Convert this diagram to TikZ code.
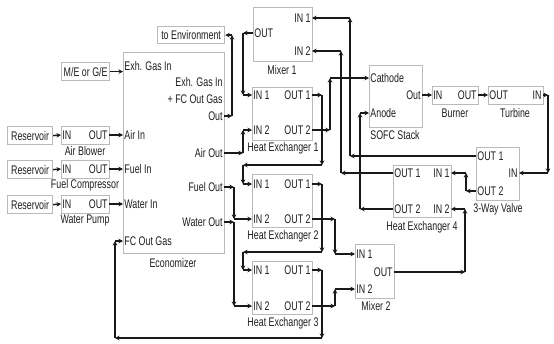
\documentclass[tikz,border=0pt]{standalone}
\usepackage{fontspec}
\setmainfont{Liberation Sans}[FakeStretch=0.71]
\usetikzlibrary{arrows.meta,decorations.pathreplacing}
\tikzset{
  box/.style={draw=black!27, line width=1.2pt, fill=white, inner sep=0pt, anchor=north west},
  tx/.style={inner sep=1.2pt, font=\fontsize{12.5}{13}\selectfont, text=black!88},
  flow/.style={decorate, decoration={show path construction,
     lineto code={\draw[line width=1.45pt, black!90, -{Stealth[length=4.5pt,width=4.5pt]}] (\tikzinputsegmentfirst) -- (\tikzinputsegmentlast);}}},
}
\newcommand\blk[5]{\node[box, minimum width=#4pt, minimum height=#5pt] (#1) at (#2,#3) {};}
\begin{document}
\begin{tikzpicture}[x=1pt,y=-1pt]
\useasboundingbox (0,0) rectangle (554,343);
% ---------- boxes ----------
\blk{envB}{157}{26}{67}{17}
\blk{meB}{61}{62}{48}{18}
\blk{eco}{123}{52}{101}{201}
\blk{r1}{7}{126}{45}{18}
\blk{r2}{7}{160}{45}{18}
\blk{r3}{7}{195}{45}{18}
\blk{ab}{61}{126}{48}{18}
\blk{fc}{61}{160}{48}{18}
\blk{wp}{61}{195}{48}{18}
\blk{m1}{253}{7}{59}{54}
\blk{h1}{252}{87}{60}{53}
\blk{h2}{252}{174}{60}{53}
\blk{h3}{252}{261}{60}{53}
\blk{m2}{355}{244}{39}{54}
\blk{sofc}{369}{65}{53}{62}
\blk{bu}{432}{86}{46}{18}
\blk{tu}{488}{86}{55}{18}
\blk{vv}{476}{147}{43}{53}
\blk{h4}{393}{165}{58}{52}
% ---------- texts ----------
\node[tx] (envT) at (envB.center) {to Environment};
\node[tx] (me) at (meB.center) {M/E or G/E};
\node[tx] (r1T) at (r1.center) {Reservoir};
\node[tx] (r2T) at (r2.center) {Reservoir};
\node[tx] (r3T) at (r3.center) {Reservoir};
\node[tx, anchor=west] (abIn) at (61,135) {IN};
\node[tx, anchor=east] (abOut) at (109,135) {OUT};
\node[tx, anchor=west] (fcIn) at (61,169) {IN};
\node[tx, anchor=east] (fcOut) at (109,169) {OUT};
\node[tx, anchor=west] (wpIn) at (61,204) {IN};
\node[tx, anchor=east] (wpOut) at (109,204) {OUT};
\node[tx] (abL) at (85,151) {Air Blower};
\node[tx] (fcL) at (85,185) {Fuel Compressor};
\node[tx] (wpL) at (85,220) {Water Pump};
% economizer
\node[tx, anchor=west] (eExh) at (123,66) {Exh. Gas In};
\node[tx, anchor=west] (eAir) at (123,135) {Air In};
\node[tx, anchor=west] (eFuel) at (123,169) {Fuel In};
\node[tx, anchor=west] (eWater) at (123,204) {Water In};
\node[tx, anchor=west] (eFC) at (123,241) {FC Out Gas};
\node[tx, anchor=east] (eR1) at (224,82) {Exh. Gas In};
\node[tx, anchor=east] (eR2) at (224,99) {+ FC Out Gas};
\node[tx, anchor=east] (eOut) at (224,116) {Out};
\node[tx, anchor=east] (eAirOut) at (224,153) {Air Out};
\node[tx, anchor=east] (eFuelOut) at (224,187) {Fuel Out};
\node[tx, anchor=east] (eWaterOut) at (224,222) {Water Out};
\node[tx] (ecoL) at (173,263) {Economizer};
% mixer 1
\node[tx, anchor=east] (m1In1) at (312,18) {IN 1};
\node[tx, anchor=east] (m1In2) at (312,51) {IN 2};
\node[tx, anchor=west] (m1Out) at (253,33) {OUT};
\node[tx] (m1L) at (282,70) {Mixer 1};
% heat exchangers 1-3
\node[tx, anchor=west] (h1In1) at (252,95) {IN 1};
\node[tx, anchor=east] (h1Out1) at (312,95) {OUT 1};
\node[tx, anchor=west] (h1In2) at (252,130) {IN 2};
\node[tx, anchor=east] (h1Out2) at (312,130) {OUT 2};
\node[tx] (h1L) at (283,148) {Heat Exchanger 1};
\node[tx, anchor=west] (h2In1) at (252,184) {IN 1};
\node[tx, anchor=east] (h2Out1) at (312,184) {OUT 1};
\node[tx, anchor=west] (h2In2) at (252,219) {IN 2};
\node[tx, anchor=east] (h2Out2) at (312,219) {OUT 2};
\node[tx] (h2L) at (283,236) {Heat Exchanger 2};
\node[tx, anchor=west] (h3In1) at (252,270) {IN 1};
\node[tx, anchor=east] (h3Out1) at (312,270) {OUT 1};
\node[tx, anchor=west] (h3In2) at (252,306) {IN 2};
\node[tx, anchor=east] (h3Out2) at (312,306) {OUT 2};
\node[tx] (h3L) at (283,323) {Heat Exchanger 3};
% mixer 2
\node[tx, anchor=west] (m2In1) at (355,254) {IN 1};
\node[tx, anchor=east] (m2Out) at (394,272) {OUT};
\node[tx, anchor=west] (m2In2) at (355,289) {IN 2};
\node[tx] (m2L) at (376,306) {Mixer 2};
% SOFC
\node[tx, anchor=west] (sCath) at (369,78) {Cathode};
\node[tx, anchor=west] (sAnode) at (369,113) {Anode};
\node[tx, anchor=east] (sOut) at (422,95) {Out};
\node[tx] (sL) at (395,135) {SOFC Stack};
% burner, turbine
\node[tx, anchor=west] (bIn) at (432,95) {IN};
\node[tx, anchor=east] (bOut) at (478,95) {OUT};
\node[tx] (bL) at (455,113) {Burner};
\node[tx, anchor=west] (tOut) at (488,95) {OUT};
\node[tx, anchor=east] (tIn) at (543,95) {IN};
\node[tx] (tL) at (515,113) {Turbine};
% 3-way valve
\node[tx, anchor=west] (vOut1) at (476,156) {OUT 1};
\node[tx, anchor=east] (vIn) at (519,173) {IN};
\node[tx, anchor=west] (vOut2) at (476,191) {OUT 2};
\node[tx] (vL) at (498,209) {3-Way Valve};
% heat exchanger 4
\node[tx, anchor=west] (h4Out1) at (393,173) {OUT 1};
\node[tx, anchor=east] (h4In1) at (451,173) {IN 1};
\node[tx, anchor=west] (h4Out2) at (393,209) {OUT 2};
\node[tx, anchor=east] (h4In2) at (451,209) {IN 2};
\node[tx] (h4L) at (422,227) {Heat Exchanger 4};
% ---------- connectors ----------
\path[flow] (meB.east) -- (meB.east -| eExh.west);
\path[flow] (r1.east) -- (abIn.west);
\path[flow] (r2.east) -- (fcIn.west);
\path[flow] (r3.east) -- (wpIn.west);
\path[flow] (abOut.east) -- (eAir.west);
\path[flow] (fcOut.east) -- (eFuel.west);
\path[flow] (wpOut.east) -- (eWater.west);
\path[flow] (eOut.east) -- ++(8,0) |- (envB.east);
\path[flow] (m1Out.west) -- ++(-10,0) |- (h1In1.west);
\path[flow] (eAirOut.east) -- ++(19,0) |- (h1In2.west);
\path[flow] (eFuelOut.east) -- ++(10,0) |- (h2In2.west);
\path[flow] (eWaterOut.east) -- ++(10,0) |- (h3In2.west);
\path[flow] (h1Out1.east) -| (322,165) -| ([xshift=-9pt]h2In1.west) -- (h2In1.west);
\path[flow] (h1Out2.east) -- ++(18,0) |- (sCath.west);
\path[flow] (h2Out1.east) -| (322,252) -| ([xshift=-9pt]h3In1.west) -- (h3In1.west);
\path[flow] (h2Out2.east) -- ++(23,0) |- (m2In1.west);
\path[flow] (h3Out1.east) -| (322,338) -| ([xshift=-8pt]eFC.west) -- (eFC.west);
\path[flow] (h3Out2.east) -- ++(23,0) |- (m2In2.west);
\path[flow] (m2Out.east) -| ([xshift=14pt]h4In2.east) -- (h4In2.east);
\path[flow] (vOut2.west) -| ([xshift=15pt]h4In1.east) -- (h4In1.east);
\path[flow] (vOut1.west) -| ([xshift=38pt]m1In1.east) -- (m1In1.east);
\path[flow] (h4Out1.west) -| ([xshift=29pt]m1In2.east) -- (m1In2.east);
\path[flow] (h4Out2.west) -| ([xshift=-9pt]sAnode.west) -- (sAnode.west);
\path[flow] (sOut.east) -- (bIn.west);
\path[flow] (bOut.east) -- (tOut.west);
\path[flow] (tIn.east) -| ([xshift=29pt]vIn.east) -- (vIn.east);
\end{tikzpicture}
\end{document}
